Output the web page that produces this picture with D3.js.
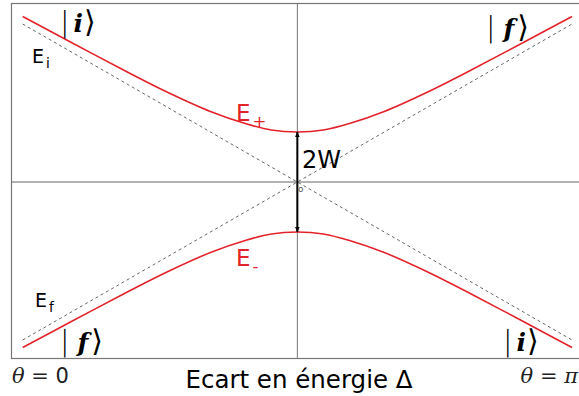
<!DOCTYPE html>
<html><head><meta charset="utf-8">
<script src="https://cdn.jsdelivr.net/npm/d3@7"></script>
<style>
html,body{margin:0;padding:0;background:#fff;}
svg{display:block;}
</style></head>
<body>
<svg id="c" width="579" height="396"></svg>
<script>
// Energy detuning Δ (in units of W) and adiabatic energies
const deltaValues = [-3.16, -2.6, -2.0, -1.5, -1.0, -0.6, -0.3, 0, 0.3, 0.6, 1.0, 1.5, 2.0, 2.6, 3.16];
const ePlus  = [3.31, 2.79, 2.24, 1.80, 1.41, 1.17, 1.04, 1.00, 1.04, 1.17, 1.41, 1.80, 2.24, 2.79, 3.31];
const eMinus = [-3.31, -2.79, -2.24, -1.80, -1.41, -1.17, -1.04, -1.00, -1.04, -1.17, -1.41, -1.80, -2.24, -2.79, -3.31];
// Diabatic energies (straight lines) at the two ends
const diabaticDelta = [-3.16, 3.16];
const eInitial = [3.16, -3.16];
const eFinal = [-3.16, 3.16];
const coupling2W = [1.0, -1.0];

const svg = d3.select("#c");
const x = d3.scaleLinear().domain([-3.16, 3.16]).range([22.7, 572]);
const y = d3.scaleLinear().domain([3.56, -3.54]).range([4, 359]);

// frame
svg.append("rect").attr("x", 11.5).attr("y", 3.5).attr("width", 620).attr("height", 355)
  .attr("fill", "none").attr("stroke", "#777").attr("stroke-width", 1.2);

// axes through origin
svg.append("line").attr("x1", 11.5).attr("x2", 579).attr("y1", y(0)).attr("y2", y(0))
  .attr("stroke", "#666").attr("stroke-width", 1);
svg.append("line").attr("x1", x(0)).attr("x2", x(0)).attr("y1", 3.5).attr("y2", 358.5)
  .attr("stroke", "#777").attr("stroke-width", 1);

// diabatic dashed lines
const ln = d3.line().x(d => x(d[0])).y(d => y(d[1]));
[eInitial, eFinal].forEach(arr => {
  svg.append("path").datum(diabaticDelta.map((d, i) => [d, arr[i]]))
    .attr("d", ln).attr("fill", "none").attr("stroke", "#666").attr("stroke-width", 1)
    .attr("stroke-dasharray", "3,3");
});

// adiabatic curves
const cl = d3.line().x(d => x(d[0])).y(d => y(d[1])).curve(d3.curveCatmullRom.alpha(0.5));
[ePlus, eMinus].forEach(arr => {
  svg.append("path").datum(deltaValues.map((d, i) => [d, arr[i]]))
    .attr("d", cl).attr("fill", "none").attr("stroke", "#e3232b").attr("stroke-width", 1.6);
});

// double arrow 2W
const defs = svg.append("defs");
defs.append("marker").attr("id", "ah").attr("viewBox", "0 0 10 10").attr("refX", 9).attr("refY", 5)
  .attr("markerWidth", 6).attr("markerHeight", 6).attr("orient", "auto-start-reverse")
  .attr("markerUnits", "userSpaceOnUse")
  .append("path").attr("d", "M0,1 L10,5 L0,9 Z").attr("fill", "#000");
svg.append("line").attr("x1", x(0)).attr("x2", x(0))
  .attr("y1", y(coupling2W[0])).attr("y2", y(coupling2W[1]))
  .attr("stroke", "#000").attr("stroke-width", 2)
  .attr("marker-start", "url(#ah)").attr("marker-end", "url(#ah)");

const sans = "DejaVu Sans, sans-serif";
const serif = "DejaVu Serif, serif";

function ket(xp, yp, letter) {
  const t = svg.append("text").attr("x", xp).attr("y", yp).attr("fill", "#000");
  t.append("tspan").attr("font-family", sans).attr("font-size", 28).attr("font-weight", 300).text("|");
  t.append("tspan").attr("font-family", serif).attr("font-size", 25).attr("font-style", "italic")
    .attr("font-weight", "bold").attr("dx", letter === "f" ? 8 : 4).text(letter);
  t.append("tspan").attr("font-family", serif).attr("font-size", 30).attr("dx", letter === "f" ? 3 : 1).text("\u27E9");
}
ket(60, 32, "i");
ket(486, 37, "f");
ket(60, 351, "f");
ket(503, 351, "i");

function elabel(xp, yp, sub, color, size) {
  const t = svg.append("text").attr("x", xp).attr("y", yp).attr("font-family", sans)
    .attr("font-size", size).attr("fill", color);
  t.append("tspan").text("E");
  t.append("tspan").attr("font-size", size * 0.72).attr("dy", size * 0.28).attr("dx", 2).text(sub);
}
elabel(32, 63, "i", "#000", 19);
elabel(35, 307, "f", "#000", 19);
elabel(236, 121, "+", "#e3232b", 23);
elabel(236, 266, "-", "#e3232b", 23);

svg.append("text").attr("x", 302).attr("y", 168).attr("font-family", sans).attr("font-size", 24)
  .attr("fill", "#000").text("2W");
svg.append("text").attr("x", 298).attr("y", 192).attr("font-family", sans).attr("font-size", 9)
  .attr("fill", "#555").text("o");

svg.append("text").attr("x", 299).attr("y", 388).attr("text-anchor", "middle").attr("font-family", sans)
  .attr("font-size", 24.5).attr("fill", "#000").text("Ecart en énergie  Δ");

function theta(xp, yp, val, anchor) {
  const t = svg.append("text").attr("x", xp).attr("y", yp).attr("font-family", serif)
    .attr("font-size", 21).attr("fill", "#222").attr("text-anchor", anchor);
  t.append("tspan").attr("font-style", "italic").text("θ");
  t.append("tspan").text(" = ");
  t.append("tspan").attr("font-style", val === "π" ? "italic" : "normal").attr("font-family", val === "π" ? serif : sans).text(val);
}
theta(12, 383, "0", "start");
theta(578, 383, "π", "end");
</script>
</body></html>
